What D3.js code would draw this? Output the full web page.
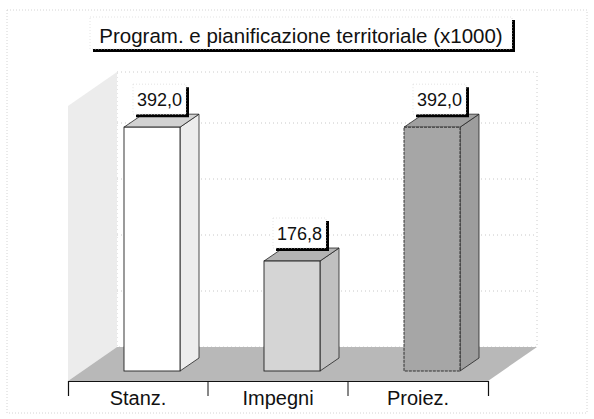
<!DOCTYPE html>
<html>
<head>
<meta charset="utf-8">
<script src="https://cdn.jsdelivr.net/npm/d3@7"></script>
<style>
  body { margin: 0; background: #fff; }
  #chart { width: 594px; height: 419px; }
  text { font-family: "Liberation Sans", Arial, sans-serif; fill: #111; }
</style>
</head>
<body>
<div id="chart"></div>
<script>
const title = "Program. e pianificazione territoriale (x1000)"
const categories = ["Stanz.", "Impegni", "Proiez."]
const values = [392.0, 176.8, 392.0]
const gridValues = [100, 200, 300, 400]

const frontColors = ["#ffffff", "#d5d5d5", "#a6a6a6"]
const sideColors = ["#ededed", "#c0c0c0", "#9d9d9d"]
const topColors = ["#d2d2d2", "#b3b3b3", "#a0a0a0"]

const width = 594
const height = 419

const svg = d3.select("#chart").append("svg")
  .attr("width", width)
  .attr("height", height)

const ftFmt = d3.formatLocale({decimal: ",", thousands: ".", grouping: [3], currency: ["", "€"]}).format(".1f")

// geometry of the 3d box
const x0 = 68, x1 = 488
const floorY = 381
const depth = {dx: 49, dy: -34}
const barOff = {dx: 14, dy: -10}
const barDepth = {dx: 19, dy: -13}
const barW = 56

const xScale = d3.scaleBand()
  .domain(categories)
  .range([x0, x1])

const yScale = d3.scaleLinear()
  .domain([0, 500])
  .range([floorY + barOff.dy, 60])

const wallScale = d3.scaleLinear()
  .domain([0, 500])
  .range([floorY + depth.dy, 67])

const wallTop = 72
const poly = pts => "M" + pts.map(p => p.join(",")).join("L") + "Z"

// outer faint frame
svg.append("rect")
  .attr("x", 7).attr("y", 10).attr("width", 580).attr("height", 403)
  .attr("fill", "none").attr("stroke", "#d4d4d4").attr("stroke-dasharray", "1,2")

// back wall
svg.append("rect")
  .attr("x", x0 + depth.dx).attr("y", wallTop)
  .attr("width", x1 - x0).attr("height", floorY + depth.dy - wallTop)
  .attr("fill", "#fff").attr("stroke", "#ccc").attr("stroke-dasharray", "1,3")

svg.append("g").selectAll("line")
  .data(gridValues)
  .enter()
  .append("line")
    .attr("x1", x0 + depth.dx).attr("x2", x1 + depth.dx)
    .attr("y1", d => wallScale(d)).attr("y2", d => wallScale(d))
    .attr("stroke", "#c8c8c8").attr("stroke-dasharray", "1,3")

// left wall
svg.append("path")
  .attr("d", poly([[x0, floorY], [x0, wallTop - depth.dy], [x0 + depth.dx, wallTop], [x0 + depth.dx, floorY + depth.dy]]))
  .attr("fill", "#ececec")

// floor
svg.append("path")
  .attr("d", poly([[x0, floorY], [x1, floorY], [x1 + depth.dx, floorY + depth.dy], [x0 + depth.dx, floorY + depth.dy]]))
  .attr("fill", "#b8b8b8")

// bars
const bars = svg.append("g").selectAll("g")
  .data(values)
  .enter()
  .append("g")

const bx = (d, i) => xScale(categories[i]) + (xScale.bandwidth() - barW) / 2 + barOff.dx
const by0 = yScale(0)

const sidePath = (d, i) => {
  const x = bx(d, i) + barW, y = yScale(d)
  return poly([[x, by0], [x, y], [x + barDepth.dx, y + barDepth.dy], [x + barDepth.dx, by0 + barDepth.dy]])
}
const topPath = (d, i) => {
  const x = bx(d, i), y = yScale(d)
  return poly([[x, y], [x + barW, y], [x + barW + barDepth.dx, y + barDepth.dy], [x + barDepth.dx, y + barDepth.dy]])
}

bars.append("path").attr("d", sidePath)
  .attr("fill", (d, i) => sideColors[i])
  .attr("stroke", "#222").attr("stroke-width", 0.8)

bars.append("path").attr("d", topPath)
  .attr("fill", (d, i) => topColors[i])
  .attr("stroke", "#222").attr("stroke-width", 0.8)

bars.append("rect")
  .attr("x", bx)
  .attr("y", d => yScale(d))
  .attr("width", barW)
  .attr("height", d => by0 - yScale(d))
  .attr("fill", (d, i) => frontColors[i])
  .attr("stroke", "#222").attr("stroke-width", 0.9)
  .attr("stroke-dasharray", (d, i) => i == 2 ? "3,1" : null)

// value labels
const lw = 53, lh = 30
const lbl = bars.append("g")
  .attr("transform", (d, i) => `translate(${bx(d, i) + 9},${yScale(d) + barDepth.dy - lh})`)
lbl.append("path")
  .attr("d", `M3,${lh + 1.5}H${lw + 1.5}V3`)
  .attr("fill", "none").attr("stroke", "#000").attr("stroke-width", 3)
lbl.append("rect")
  .attr("width", lw).attr("height", lh)
  .attr("fill", "#fff").attr("stroke", "#ddd").attr("stroke-width", 0.8)
  .attr("stroke-dasharray", "1,2")
lbl.append("text")
  .attr("x", lw / 2).attr("y", 22)
  .attr("text-anchor", "middle")
  .attr("font-size", 18)
  .text(d => ftFmt(d))

// axis
const axis = svg.append("g")
  .attr("transform", `translate(0,${floorY})`)
  .call(d3.axisBottom(xScale).tickSizeInner(0).tickSizeOuter(15).tickPadding(10))
axis.select(".domain").attr("stroke", "#111").attr("stroke-width", 1.2)
axis.selectAll("text")
  .attr("font-size", 20)
  .attr("font-family", "'Liberation Sans', Arial, sans-serif")
  .attr("fill", "#111")

axis.selectAll(".sep")
  .data(categories.slice(1))
  .enter()
  .append("line")
    .attr("class", "sep")
    .attr("x1", d => xScale(d)).attr("x2", d => xScale(d))
    .attr("y1", 0).attr("y2", 15)
    .attr("stroke", "#111")

// title
const tb = {x: 90, y: 17, w: 422, h: 32}
const tg = svg.append("g").attr("transform", `translate(${tb.x},${tb.y})`)
tg.append("path")
  .attr("d", `M3,${tb.h + 1.5}H${tb.w + 1.5}V3`)
  .attr("fill", "none").attr("stroke", "#000").attr("stroke-width", 3)
tg.append("rect")
  .attr("width", tb.w).attr("height", tb.h)
  .attr("fill", "#fff").attr("stroke", "#ddd").attr("stroke-width", 0.8)
  .attr("stroke-dasharray", "1,2")
tg.append("text")
  .attr("x", tb.w / 2).attr("y", 26)
  .attr("text-anchor", "middle")
  .attr("font-size", 20.5)
  .text(title)
</script>
</body>
</html>
